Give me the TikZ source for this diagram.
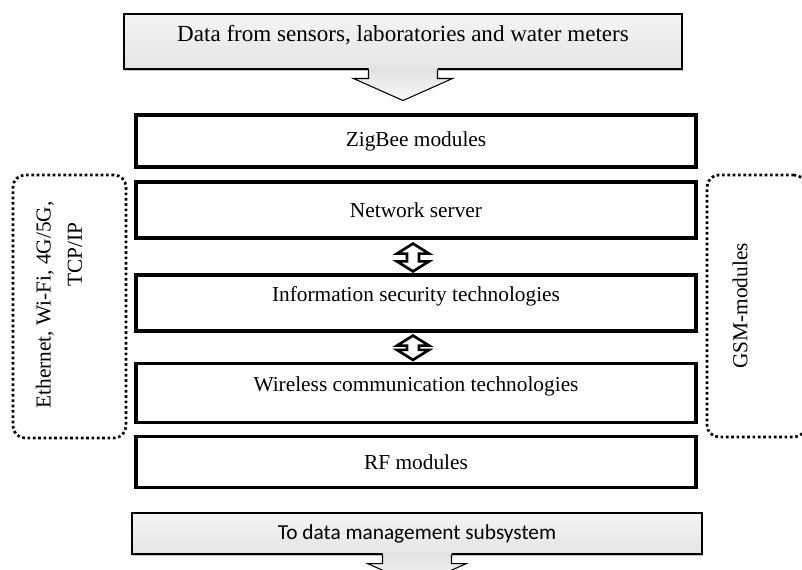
\documentclass[tikz,border=0pt]{standalone}
\usepackage{fontspec}
\setmainfont{Liberation Serif}
\newfontfamily\labelsans{Carlito}
\usetikzlibrary{positioning,calc,shadows}

\tikzset{
  layer/.style={draw,line width=2.4pt,fill=white,minimum width=420pt,inner sep=0pt,font=\fontsize{16}{19}\selectfont},
  feed/.style={draw,line width=0.8pt,top color=gray!8,bottom color=gray!21,drop shadow={shadow xshift=0.6pt,shadow yshift=-1.8pt,fill=gray!70,opacity=0.7}},
  feedtip/.style={top color=gray!24,bottom color=gray!5},
  group/.style={draw,line width=2pt,dash pattern=on 2pt off 2pt,rounded corners=9pt},
  grouptext/.style={rotate=90,align=center,font=\fontsize{16}{23.5}\selectfont},
  link/.style={draw,line width=2pt,fill=white}
}

\begin{document}
\begin{tikzpicture}[x=0.75pt,y=-0.75pt,on grid]
\path[use as bounding box,fill=white] (0,0) rectangle (802,570);
% incoming data
\node[feed,minimum width=418.5pt,minimum height=41.25pt,text depth=12pt,font=\fontsize{17.3}{20}\selectfont] (src) at (403,41.5) {Data from sensors, laboratories and water meters};
\shade[feedtip] ($(src.south)+(-34.5,-2)$) -- ++(0,11) -- ++(-15,0) -- ($(src.south)+(0,31)$) -- ($(src.south)+(49.5,9)$) -- ++(-15,0) -- ++(0,-11) -- cycle;
\draw[line width=0.8pt] ($(src.south)+(-34.5,0)$) -- ++(0,9) -- ++(-15,0) -- ($(src.south)+(0,31)$) -- ($(src.south)+(49.5,9)$) -- ++(-15,0) -- ++(0,-9);

% transmission layers
\node[layer,minimum height=39pt] (zb) at (416,141) {ZigBee modules};
\node[layer,minimum height=42pt,below=51.75pt of zb] (ns) {Network server};
\node[layer,minimum height=42pt,text depth=14pt,below=69.75pt of ns] (is) {Information security technologies};
\node[layer,minimum height=44.25pt,text depth=14pt,below=67.5pt of is] (wl) {Wireless communication technologies};
\node[layer,minimum height=38.25pt,below=51.75pt of wl] (rf) {RF modules};

% two-way links
\draw[link] ($(ns.south)+(-3,4)$) -- ++(16,10) -- ++(-10,0) -- ($(is.north)+(3,-12)$) -- ++(10,0) -- ($(is.north)+(-3,-2)$)
  -- ++(-16,-10) -- ++(10,0) -- ($(ns.south)+(-9,14)$) -- ++(-10,0) -- cycle;
\draw[link] ($(is.south)+(-3,3)$) -- ++(16,10) -- ++(-10,0) -- ($(wl.north)+(3,-12)$) -- ++(10,0) -- ($(wl.north)+(-3,-2)$)
  -- ++(-16,-10) -- ++(10,0) -- ($(is.south)+(-9,13)$) -- ++(-10,0) -- cycle;

% side groups
\node[group,minimum width=84.75pt,minimum height=197.25pt] (wired) at (69.5,306.5) {};
\node[grouptext] (wired_txt) at (59,305) {Ethernet, Wi-Fi, 4G/5G,\\\hspace*{76pt}TCP/IP};
\node[group,minimum width=74.25pt,minimum height=196.5pt] (gsm) at (756.5,306) {};
\node[grouptext] (gsm_txt) at (740,306) {GSM-modules};

% outgoing data
\node[feed,minimum width=427.5pt,minimum height=30.75pt,font=\labelsans\fontsize{16}{19}\selectfont] (dst) at (417,533.5) {To data management subsystem};
\shade[feedtip] ($(dst.south)+(-34.5,-2)$) -- ++(0,11) -- ++(-15,0) -- ($(dst.south)+(0,31)$) -- ($(dst.south)+(49.5,9)$) -- ++(-15,0) -- ++(0,-11) -- cycle;
\draw[line width=0.8pt] ($(dst.south)+(-34.5,0)$) -- ++(0,9) -- ++(-15,0) -- ($(dst.south)+(0,31)$) -- ($(dst.south)+(49.5,9)$) -- ++(-15,0) -- ++(0,-9);
\end{tikzpicture}
\end{document}
